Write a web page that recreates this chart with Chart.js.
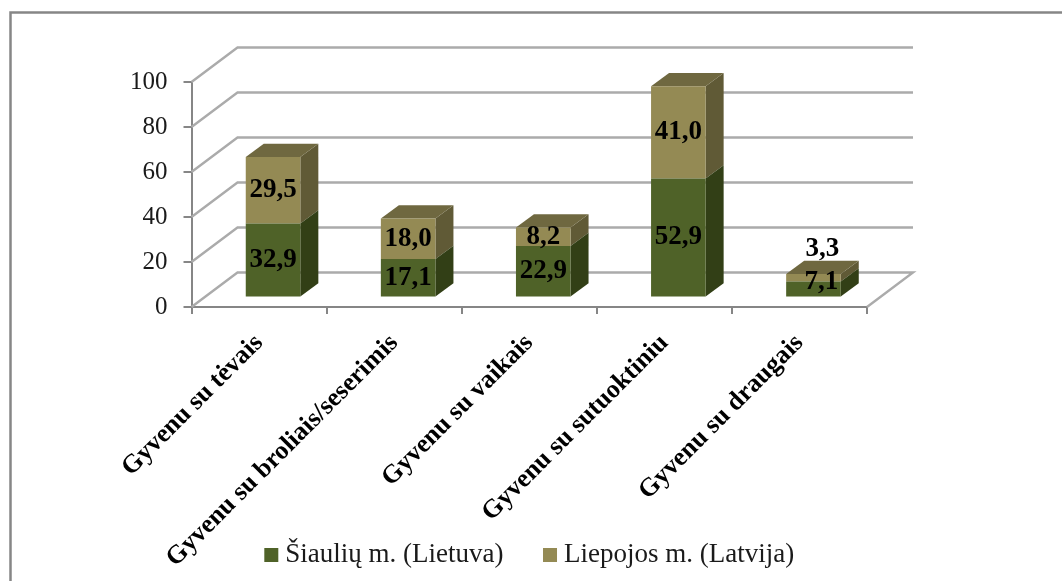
<!DOCTYPE html>
<html><head><meta charset="utf-8">
<script src="https://cdn.jsdelivr.net/npm/chart.js@4"></script>
<style>html,body{margin:0;padding:0;background:#fff}canvas{display:block}</style>
</head><body>
<div style="width:1062px;height:581px"><canvas id="c"></canvas></div>
<script>
const categories = ["Gyvenu su tėvais","Gyvenu su broliais/seserimis","Gyvenu su vaikais","Gyvenu su sutuoktiniu","Gyvenu su draugais"];
const siauliai = [32.9,17.1,22.9,52.9,7.1];
const liepoja = [29.5,18.0,8.2,41.0,3.3];
const seriesNames = ["Šiaulių m. (Lietuva)","Liepojos m. (Latvija)"];
const yTicks = [0,20,40,60,80,100];

const WALL = {dx:46, dy:-34.5};
const BAR_SHIFT = {dx:14, dy:-9.5};
const BAR_DEPTH = {dx:18, dy:-13.3};
const FACES = [
  {front:'#4F6228', side:'#323F16', top:'#3C4C1C'},
  {front:'#948A54', side:'#605A36', top:'#6F6840'}
];
const LABEL_NUDGE = {'0:4':[8,-7],'1:4':[9,-29]};
const SERIF = '"Liberation Serif","Times New Roman",serif';
const LEGEND_SHIFT = {x:99, y:-2.5};

const scene = {
  id:'scene',
  afterLayout(ch){
    ch.scales.x.bottom = 581;
    const l = ch.legend;
    l.left += LEGEND_SHIFT.x; l.right += LEGEND_SHIFT.x;
    l.top += LEGEND_SHIFT.y; l.bottom += LEGEND_SHIFT.y;
  },
  beforeDraw(ch){
    const c = ch.ctx; c.save();
    c.strokeStyle='#868686'; c.lineWidth=2.5;
    c.beginPath(); c.moveTo(10.5,581); c.lineTo(10.5,12.5); c.lineTo(1062,12.5); c.stroke();
    c.restore();
  },
  beforeDatasetsDraw(ch){
    const c = ch.ctx, y = ch.scales.y, a = ch.chartArea;
    c.save(); c.strokeStyle='#ABABAB'; c.lineWidth=2.4; c.lineJoin='miter';
    yTicks.forEach(v=>{
      const p = y.getPixelForValue(v);
      c.beginPath(); c.moveTo(a.left,p); c.lineTo(a.left+WALL.dx,p+WALL.dy); c.lineTo(a.right+WALL.dx,p+WALL.dy);
      if(v===0) c.lineTo(a.right,p);
      c.stroke();
    });
    c.restore();
  },
  beforeDatasetDraw(ch,args){
    const c = ch.ctx, f = FACES[args.index], top = args.index===1;
    c.save(); c.translate(BAR_SHIFT.dx,BAR_SHIFT.dy);
    args.meta.data.forEach(b=>{
      const l=b.x-b.width/2, r=b.x+b.width/2, t=b.y, bt=b.base;
      c.fillStyle=f.side; c.beginPath();
      c.moveTo(r,t); c.lineTo(r+BAR_DEPTH.dx,t+BAR_DEPTH.dy); c.lineTo(r+BAR_DEPTH.dx,bt+BAR_DEPTH.dy); c.lineTo(r,bt); c.closePath(); c.fill();
      if(top){ c.fillStyle=f.top; c.beginPath();
        c.moveTo(l,t); c.lineTo(l+BAR_DEPTH.dx,t+BAR_DEPTH.dy); c.lineTo(r+BAR_DEPTH.dx,t+BAR_DEPTH.dy); c.lineTo(r,t); c.closePath(); c.fill(); }
    });
  },
  afterDatasetDraw(ch){ ch.ctx.restore(); },
  afterDatasetsDraw(ch){
    const c = ch.ctx; c.save();
    c.font='bold 27px '+SERIF; c.fillStyle='#000'; c.textAlign='center'; c.textBaseline='middle';
    ch.data.datasets.forEach((d,i)=>{
      ch.getDatasetMeta(i).data.forEach((b,j)=>{
        const n = LABEL_NUDGE[i+':'+j]||[0,0];
        c.fillText(d.data[j].toFixed(1).replace('.',','), b.x+BAR_SHIFT.dx+n[0], (b.y+b.base)/2+BAR_SHIFT.dy+n[1]);
      });
    });
    c.restore();
  }
};

new Chart(document.getElementById('c'),{
  type:'bar',
  data:{labels:categories,datasets:[
    {label:seriesNames[0],data:siauliai,backgroundColor:FACES[0].front,clip:false},
    {label:seriesNames[1],data:liepoja,backgroundColor:FACES[1].front,clip:false}
  ]},
  plugins:[scene],
  options:{
    responsive:true,maintainAspectRatio:false,animation:false,
    categoryPercentage:0.404,barPercentage:1,
    layout:{padding:{top:82,left:0,right:195,bottom:0}},
    plugins:{tooltip:{enabled:false},legend:{position:'bottom',
      labels:{usePointStyle:true,pointStyle:'rect',boxWidth:1,boxHeight:14,padding:46,color:'#1a1a1a',font:{family:SERIF,size:27}}}},
    scales:{
      x:{stacked:true,
        grid:{display:true,drawOnChartArea:false,drawTicks:true,tickLength:7,color:'#868686',lineWidth:2,offset:true},
        border:{color:'#868686',width:2},
        ticks:{autoSkip:false,minRotation:45,maxRotation:45,labelOffset:0,padding:14,color:'#000',font:{family:SERIF,size:26,weight:'bold'}},
        afterFit(s){s.height=191;s.paddingLeft=0;s.paddingRight=0;}
      },
      y:{stacked:true,min:0,max:100,
        grid:{display:true,drawOnChartArea:false,drawTicks:true,tickLength:8,color:'#868686',lineWidth:2},
        border:{color:'#868686',width:2},
        ticks:{stepSize:20,padding:16,color:'#1a1a1a',font:{family:SERIF,size:25}},
        afterFit(s){s.width=191.5;}
      }
    }
  }
});
</script>
</body></html>
